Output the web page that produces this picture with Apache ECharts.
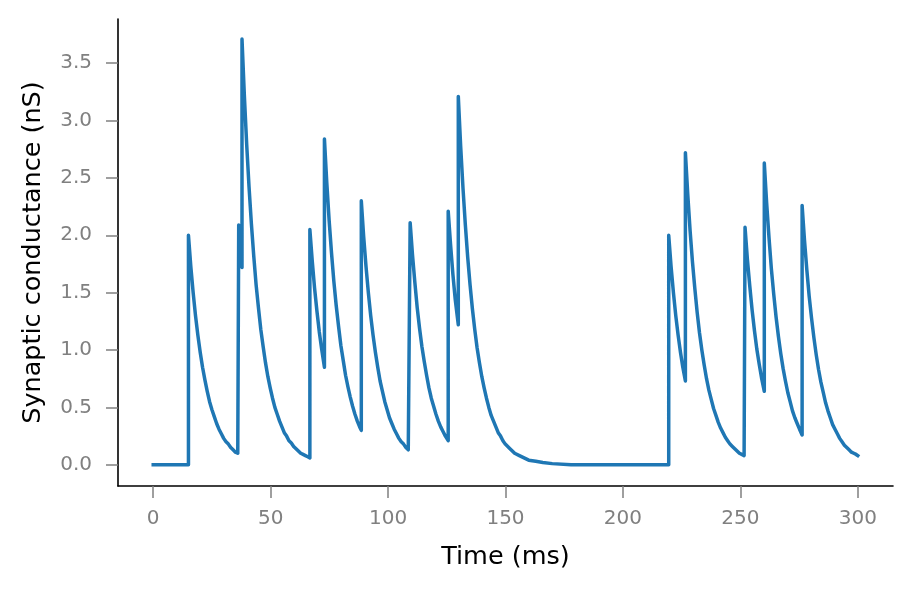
<!DOCTYPE html>
<html>
<head>
<meta charset="utf-8">
<script src="https://cdn.jsdelivr.net/npm/echarts@6/dist/echarts.min.js"></script>
<style>html,body{margin:0;padding:0;background:#fff}#c{width:911px;height:590px}</style>
</head>
<body>
<div id="c"></div>
<script>
// Time (ms) and synaptic conductance (nS) (one line per spike segment)
const timeMs = [].concat(
  [0, 15],
  [15, 16, 17, 18, 19, 20, 21, 22, 23, 24, 25, 26, 27, 28, 29, 30, 31, 32, 33, 34, 35, 36, 36.4],
  [36.4, 37.8],
  [37.8, 38.8, 39.8, 40.8, 41.8, 42.8, 43.8, 44.8, 45.8, 46.8, 47.8, 48.8, 49.8, 50.8, 51.8, 52.8, 53.8, 54.8, 55.8, 56.8, 57.8, 58.8, 59.8, 60.8, 61.8, 62.8, 63.8, 64.8, 65.8, 66.7],
  [66.7, 67.7, 68.7, 69.7, 70.7, 71.7, 72.9],
  [72.9, 73.9, 74.9, 75.9, 76.9, 77.9, 78.9, 79.9, 80.9, 81.9, 82.9, 83.9, 84.9, 85.9, 86.9, 87.9, 88.6],
  [88.6, 89.6, 90.6, 91.6, 92.6, 93.6, 94.6, 95.6, 96.6, 97.6, 98.6, 99.6, 100.6, 101.6, 102.6, 103.6, 104.6, 105.6, 106.6, 107.6, 108.6, 109.4],
  [109.4, 110.4, 111.4, 112.4, 113.4, 114.4, 115.4, 116.4, 117.4, 118.4, 119.4, 120.4, 121.4, 122.4, 123.4, 124.4, 125.6],
  [125.6, 126.6, 127.6, 128.6, 129.9],
  [129.9, 130.9, 131.9, 132.9, 133.9, 134.9, 135.9, 136.9, 137.9, 138.9, 139.9, 140.9, 141.9, 142.9, 143.9, 144.9, 145.9, 146.9, 147.9, 148.9, 149.9, 151.9, 153.9, 155.9, 157.9, 159.9, 162.9, 165.9, 169.9, 177.9, 219.5],
  [219.5, 220.5, 221.5, 222.5, 223.5, 224.5, 225.5, 226.6],
  [226.6, 227.6, 228.6, 229.6, 230.6, 231.6, 232.6, 233.6, 234.6, 235.6, 236.6, 237.6, 238.6, 239.6, 240.6, 241.6, 242.6, 243.6, 244.6, 245.6, 246.6, 247.6, 248.6, 249.6, 250.6, 251.6, 252.0],
  [252.0, 253, 254, 255, 256, 257, 258, 259, 260.2],
  [260.2, 261.2, 262.2, 263.2, 264.2, 265.2, 266.2, 267.2, 268.2, 269.2, 270.2, 271.2, 272.2, 273.2, 274.2, 275.2, 276.3],
  [276.3, 277.3, 278.3, 279.3, 280.3, 281.3, 282.3, 283.3, 284.3, 285.3, 286.3, 287.3, 288.3, 289.3, 290.3, 291.3, 292.3, 293.3, 294.3, 295.3, 296.3, 297.3, 298.3, 299.3, 300]
);
const conductanceNs = [].concat(
  [0, 0],
  [2.0, 1.73, 1.50, 1.30, 1.13, 0.98, 0.85, 0.74, 0.64, 0.55, 0.48, 0.42, 0.36, 0.31, 0.27, 0.23, 0.20, 0.18, 0.15, 0.13, 0.11, 0.10, 0.09],
  [2.09, 1.72],
  [3.71, 3.22, 2.79, 2.42, 2.10, 1.82, 1.57, 1.37, 1.18, 1.03, 0.89, 0.77, 0.67, 0.58, 0.50, 0.44, 0.38, 0.33, 0.28, 0.25, 0.21, 0.19, 0.16, 0.14, 0.12, 0.10, 0.09, 0.08, 0.07, 0.06],
  [2.05, 1.78, 1.54, 1.34, 1.16, 1.01, 0.85],
  [2.84, 2.46, 2.13, 1.85, 1.60, 1.39, 1.21, 1.04, 0.91, 0.78, 0.68, 0.59, 0.51, 0.44, 0.38, 0.33, 0.30],
  [2.30, 1.99, 1.73, 1.50, 1.30, 1.13, 0.98, 0.85, 0.73, 0.64, 0.55, 0.48, 0.41, 0.36, 0.31, 0.27, 0.23, 0.20, 0.18, 0.15, 0.13, 0.12],
  [2.11, 1.83, 1.59, 1.37, 1.19, 1.03, 0.90, 0.78, 0.67, 0.58, 0.51, 0.44, 0.38, 0.33, 0.29, 0.25, 0.21],
  [2.21, 1.92, 1.66, 1.44, 1.22],
  [3.21, 2.78, 2.41, 2.09, 1.81, 1.57, 1.36, 1.18, 1.02, 0.89, 0.77, 0.67, 0.58, 0.50, 0.43, 0.38, 0.33, 0.28, 0.25, 0.21, 0.18, 0.14, 0.10, 0.08, 0.06, 0.04, 0.03, 0.02, 0.01, 0.0, 0.0],
  [2.0, 1.73, 1.50, 1.30, 1.13, 0.98, 0.85, 0.73],
  [2.72, 2.36, 2.04, 1.77, 1.54, 1.33, 1.15, 1.00, 0.87, 0.75, 0.65, 0.57, 0.49, 0.43, 0.37, 0.32, 0.28, 0.24, 0.21, 0.18, 0.16, 0.14, 0.12, 0.10, 0.09, 0.08, 0.07],
  [2.07, 1.79, 1.56, 1.35, 1.17, 1.01, 0.88, 0.76, 0.64],
  [2.63, 2.28, 1.98, 1.71, 1.49, 1.29, 1.12, 0.97, 0.84, 0.73, 0.63, 0.55, 0.47, 0.41, 0.36, 0.31, 0.26],
  [2.26, 1.96, 1.70, 1.47, 1.28, 1.11, 0.96, 0.83, 0.72, 0.63, 0.54, 0.47, 0.41, 0.35, 0.31, 0.27, 0.23, 0.20, 0.17, 0.15, 0.13, 0.11, 0.10, 0.09, 0.08]
);
const xTicks = [0, 50, 100, 150, 200, 250, 300];
const yTicks = [0, 0.5, 1.0, 1.5, 2.0, 2.5, 3.0, 3.5];

const seriesData = timeMs.map((t, i) => [t, conductanceNs[i]]);
const font = 'DejaVu Sans';
const chart = echarts.init(document.getElementById('c'), null, {renderer: 'canvas'});
chart.setOption({
  animation: false,
  backgroundColor: '#ffffff',
  grid: {left: 118, right: 18, top: 19, bottom: 104, containLabel: false},
  xAxis: {
    type: 'value', min: -15, max: 315,
    name: 'Time (ms)', nameLocation: 'middle', nameGap: 58,
    nameTextStyle: {color: '#000', fontFamily: font, fontSize: 25.5},
    axisLine: {show: true, onZero: false, lineStyle: {color: '#000', width: 1.6}},
    axisTick: {show: true, length: 12, customValues: xTicks, lineStyle: {color: '#808080', width: 1.5}},
    axisLabel: {customValues: xTicks, margin: 23, color: '#808080', fontFamily: font, fontSize: 20},
    splitLine: {show: false}
  },
  yAxis: {
    type: 'value', min: -0.185, max: 3.885,
    name: 'Synaptic conductance (nS)', nameLocation: 'middle', nameGap: 72,
    nameTextStyle: {color: '#000', fontFamily: font, fontSize: 25.5},
    axisLine: {show: true, onZero: false, lineStyle: {color: '#000', width: 1.6}},
    axisTick: {show: true, length: 12, customValues: yTicks, lineStyle: {color: '#808080', width: 1.5}},
    axisLabel: {customValues: yTicks, margin: 26, color: '#808080', fontFamily: font, fontSize: 20,
      formatter: v => v.toFixed(1)},
    splitLine: {show: false}
  },
  series: [{
    type: 'line', data: seriesData, showSymbol: false, symbol: 'none',
    lineStyle: {color: '#1f77b4', width: 3.5, cap: 'square', join: 'round'}
  }]
});
</script>
</body>
</html>
